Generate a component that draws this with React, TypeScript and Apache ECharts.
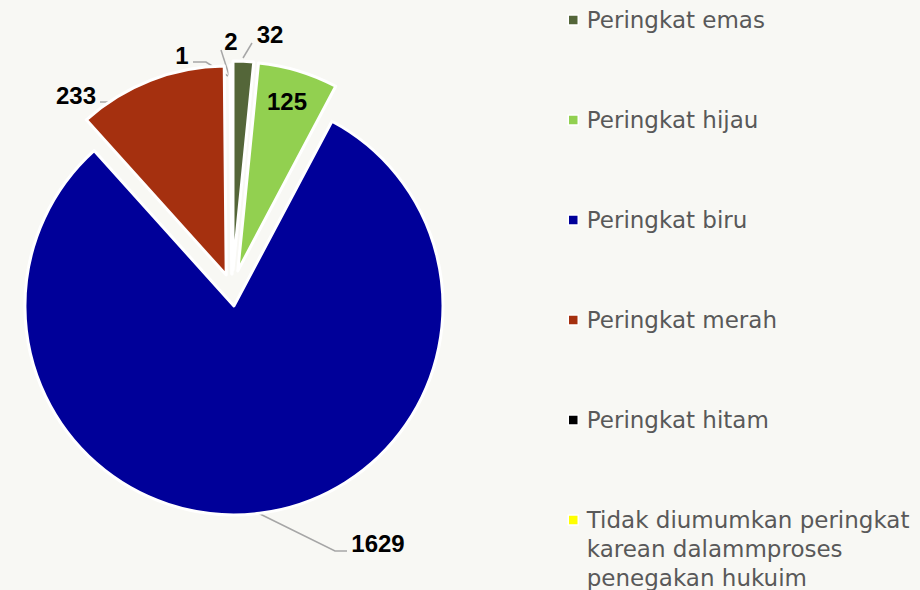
import React, { useEffect, useRef } from 'react';
import * as echarts from 'echarts';

// ---- data ----
const categories = [
  'Peringkat emas',
  'Peringkat hijau',
  'Peringkat biru',
  'Peringkat merah',
  'Peringkat hitam',
  'Tidak diumumkan peringkat\nkarean dalammproses\npenegakan hukuim',
];
const values = [32, 125, 1629, 233, 1, 2];
const sliceColors = ['#546639', '#92D050', '#000099', '#A5300F', '#000000', '#FFFF00'];
const farExploded = ['Peringkat emas', 'Peringkat hijau'];

// ---- label placement (style only) ----
const labelCenters: [number, number][] = [
  [270, 34],
  [287, 101],
  [378, 543],
  [76, 95],
  [182, 55],
  [231, 41],
];
const leaderLines: ([number, number][] | null)[] = [
  [[243, 58], [252, 43]],
  null,
  [[258, 513], [335, 551], [347, 551]],
  [[152, 86], [110, 102], [100, 102]],
  [[228, 76], [206, 62], [193, 62]],
  [[229, 75], [221, 50]],
];

const CENTER = [232, 290];
const RADIUS = 209;

const legendText = {
  fontFamily: 'DejaVu Sans',
  fontSize: 23,
  color: '#595959',
  lineHeight: 29,
};

const TRANSPARENT = 'rgba(0,0,0,0)';

function sliceSeries(far: boolean, offset: number) {
  const isVisible = (i: number) => farExploded.includes(categories[i]) === far;
  return {
    type: 'pie',
    center: CENTER,
    radius: RADIUS,
    startAngle: 90,
    clockwise: true,
    selectedMode: 'multiple',
    selectedOffset: offset,
    silent: true,
    emphasis: { disabled: true, scale: false },
    itemStyle: { borderColor: '#ffffff', borderWidth: 3 },
    label: { show: false },
    labelLine: { show: false },
    data: categories.map((name, i) => ({
      name,
      value: values[i],
      selected: true,
      itemStyle: isVisible(i)
        ? { color: sliceColors[i] }
        : { color: TRANSPARENT, borderWidth: 0 },
    })),
  };
}

function labelSeries() {
  return {
    type: 'pie',
    center: CENTER,
    radius: RADIUS,
    startAngle: 90,
    clockwise: true,
    selectedMode: false,
    avoidLabelOverlap: false,
    silent: true,
    emphasis: { disabled: true, scale: false },
    itemStyle: { color: TRANSPARENT, borderWidth: 0 },
    label: {
      show: true,
      position: 'outside',
      formatter: '{c}',
      color: '#000000',
      fontFamily: 'Liberation Sans',
      fontWeight: 'bold',
      fontSize: 24,
    },
    labelLine: { show: true, lineStyle: { color: '#A6A6A6', width: 1.5 } },
    data: categories.map((name, i) => ({
      name,
      value: values[i],
      labelLine: { show: leaderLines[i] !== null },
    })),
    labelLayout: (p: any) => {
      const i = p.dataIndex;
      const [x, y] = labelCenters[i];
      const out: any = { x, y, align: 'center', verticalAlign: 'middle' };
      if (leaderLines[i]) out.labelLinePoints = leaderLines[i];
      return out;
    },
  };
}

export default function App() {
  const ref = useRef<HTMLDivElement>(null);
  useEffect(() => {
    if (!ref.current) return;
    const chart = echarts.init(ref.current, undefined, { renderer: 'svg' });
    const legendItems = categories.map((name, i) => ({
      name,
      itemStyle: { color: sliceColors[i], borderColor: '#ffffff', borderWidth: 1.5 },
    }));
    chart.setOption({
      animation: false,
      backgroundColor: '#F8F8F4',
      legend: [
        {
          orient: 'vertical',
          left: 567.5,
          top: 5.5,
          padding: 0,
          icon: 'rect',
          itemWidth: 10,
          itemHeight: 10,
          itemGap: 71,
          selectedMode: false,
          data: legendItems.slice(0, 5),
          textStyle: { ...legendText, padding: [0, 0, 0, 3.5] },
        },
        {
          orient: 'vertical',
          left: 567.5,
          top: 447.5,
          padding: 0,
          icon: 'rect',
          itemWidth: 10,
          itemHeight: 10,
          selectedMode: false,
          data: legendItems.slice(5),
          formatter: (name: string) => '\n\n' + name,
          textStyle: { ...legendText, padding: [0, 0, 0, 3.5] },
        },
      ],
      series: [sliceSeries(false, 16), sliceSeries(true, 20), labelSeries()],
    });
    return () => chart.dispose();
  }, []);
  return (
    <div
      ref={ref}
      style={{ position: 'fixed', left: 0, top: 0, width: 920, height: 590 }}
    />
  );
}
